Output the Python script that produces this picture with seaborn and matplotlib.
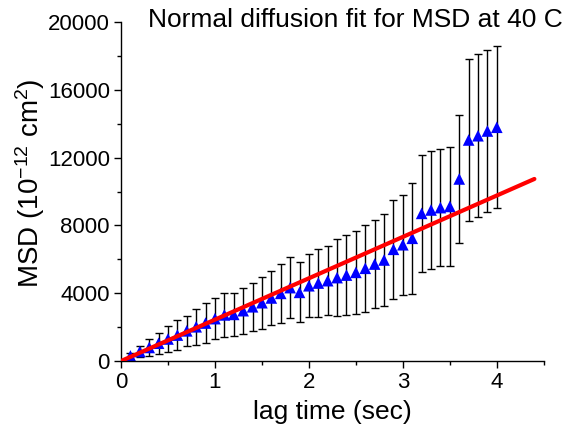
from matplotlib import pyplot as plt
from matplotlib.ticker import MultipleLocator
import seaborn as sns
import pandas as pd
import numpy as np

sns.set_style('white')
plt.rcParams['font.family'] = ['Liberation Sans', 'DejaVu Sans']
plt.rcParams['mathtext.fontset'] = 'custom'
plt.rcParams['mathtext.rm'] = 'Liberation Sans'
plt.rcParams['mathtext.it'] = 'Liberation Sans:italic'
plt.rcParams['text.color'] = 'black'
plt.rcParams['axes.labelcolor'] = 'black'
plt.rcParams['xtick.color'] = 'black'
plt.rcParams['ytick.color'] = 'black'

# lag times (sec), mean square displacement (10^-12 cm^2) and its error
lag_time = [0.1, 0.2, 0.3, 0.4, 0.5, 0.6, 0.7, 0.8, 0.9, 1.0,
            1.1, 1.2, 1.3, 1.4, 1.5, 1.6, 1.7, 1.8, 1.9, 2.0,
            2.1, 2.2, 2.3, 2.4, 2.5, 2.6, 2.7, 2.8, 2.9, 3.0,
            3.1, 3.2, 3.3, 3.4, 3.5, 3.6, 3.7, 3.8, 3.9, 4.0]
msd = [300, 560, 800, 1050, 1300, 1530, 1780, 2020, 2240, 2500,
       2720, 2750, 2970, 3200, 3440, 3720, 3990, 4330, 4050, 4440,
       4600, 4740, 4920, 5070, 5230, 5470, 5720, 5960, 6590, 6860,
       7240, 8710, 8910, 9050, 9120, 10740, 13040, 13290, 13570, 13790]
msd_err = [180, 300, 480, 620, 760, 890, 900, 1050, 1200, 1230,
           1300, 1280, 1360, 1420, 1530, 1610, 1730, 1790, 1770, 1870,
           1990, 2040, 2250, 2380, 2440, 2550, 2600, 2700, 2930, 2960,
           3290, 3470, 3470, 3450, 3500, 3750, 4800, 4800, 4780, 4780]

# normal diffusion fit line
fit_time = [0.0, 4.4]
fit_msd = [0.0, 10740]

df = pd.DataFrame({'t': lag_time, 'msd': msd, 'err': msd_err})
fit = pd.DataFrame({'t': fit_time, 'msd': fit_msd})

fig = plt.figure(figsize=(5.7, 4.4), dpi=100)
ax = fig.add_axes([0.2123, 0.1795, 0.7417, 0.7705])

ax.errorbar(df['t'], df['msd'], yerr=df['err'], fmt='none', ecolor='black',
            elinewidth=1, capsize=3, capthick=1, zorder=1)
sns.scatterplot(x='t', y='msd', data=df, marker='^', color='blue', s=70,
                edgecolor='none', ax=ax, zorder=2)
sns.lineplot(x='t', y='msd', data=fit, color='red', linewidth=3, ax=ax, zorder=3)

ax.set_xlim(0, 4.5)
ax.set_ylim(0, 20000)
ax.xaxis.set_major_locator(MultipleLocator(1))
ax.xaxis.set_minor_locator(MultipleLocator(0.5))
ax.yaxis.set_major_locator(MultipleLocator(4000))
ax.yaxis.set_minor_locator(MultipleLocator(2000))
ax.tick_params(which='major', direction='out', length=5, width=1, labelsize=16,
               bottom=True, left=True, color='black', labelcolor='black', pad=3)
ax.tick_params(which='minor', direction='out', length=3, width=1,
               bottom=True, left=True, color='black')

for side in ['top', 'right']:
    ax.spines[side].set_visible(False)
for side in ['left', 'bottom']:
    ax.spines[side].set_color('black')
    ax.spines[side].set_linewidth(1)

ax.set_xlabel('lag time (sec)', fontsize=19)
ax.xaxis.set_label_coords(0.5, -0.115)
ax.set_ylabel('MSD (10$^{-12}$ cm$^{2}$)', fontsize=20)
ax.yaxis.set_label_coords(-0.175, 0.525)
fig.text(0.623, 0.955, 'Normal diffusion fit for MSD at 40 C', fontsize=19,
         ha='center', va='center')

fig.savefig('out.png', dpi=100)
